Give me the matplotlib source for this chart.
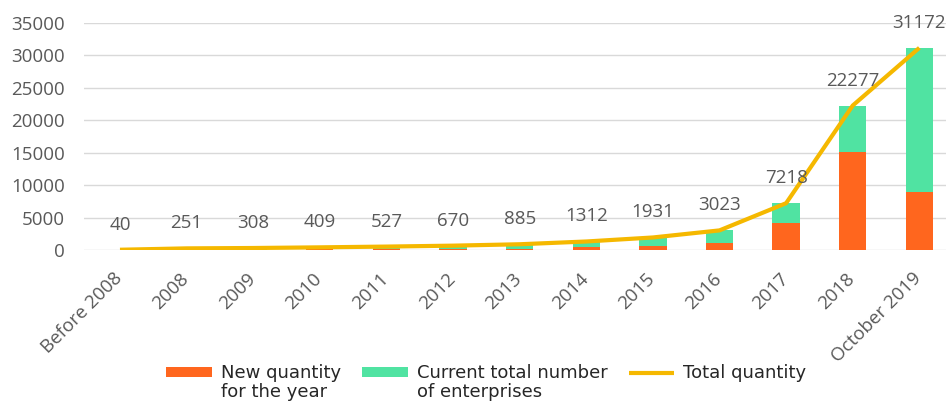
import matplotlib
matplotlib.use("Agg")
import matplotlib.pyplot as plt
import matplotlib.transforms as mtransforms
import numpy as np

categories = ["Before 2008", "2008", "2009", "2010", "2011", "2012", "2013",
              "2014", "2015", "2016", "2017", "2018", "October 2019"]
new_quantity = [40, 211, 57, 101, 118, 143, 215, 427, 619, 1092, 4195, 15059, 8895]
current_total = [0, 40, 251, 308, 409, 527, 670, 885, 1312, 1931, 3023, 7218, 22277]
total_quantity = [40, 251, 308, 409, 527, 670, 885, 1312, 1931, 3023, 7218, 22277, 31172]
yticks = [0, 5000, 10000, 15000, 20000, 25000, 30000, 35000]

plt.rcParams['font.family'] = ['Open Sans', 'DejaVu Sans']
GREY = '#595959'
ORANGE = '#FF661E'
GREEN = '#50E3A2'
GOLD = '#F5B800'

fig = plt.figure(figsize=(9.48, 4.05), dpi=100)
ax = fig.add_axes([84/948, 1-250/405, 862/948, 227/405])

x = np.arange(len(categories))
w = 0.41
b1 = ax.bar(x, new_quantity, w, color=ORANGE, label="New quantity", zorder=2)
b2 = ax.bar(x, current_total, w, bottom=new_quantity, color=GREEN,
            label="Current total number", zorder=2)
ln, = ax.plot(x, total_quantity, color=GOLD, lw=3, label="Total quantity",
              zorder=3, solid_capstyle='butt')

for xi, v in zip(x, total_quantity):
    ax.annotate(str(v), (xi, v), xytext=(0, 18), textcoords='offset points',
                ha='center', va='center', fontsize=13.5, color=GREY, zorder=4)

ax.set_ylim(0, 35000)
ax.set_xlim(-0.54, 12.4)
ax.set_yticks(yticks)
ax.set_yticklabels([str(t) for t in yticks], fontsize=13.5, color=GREY)
ax.set_xticks(x)
ax.set_xticklabels(categories, rotation=45, ha='right', rotation_mode='anchor',
                   fontsize=13.5, color=GREY)
ax.tick_params(axis='both', length=0)
ax.tick_params(axis='y', pad=14)
ax.tick_params(axis='x', pad=14)
shift = mtransforms.ScaledTranslation(-7/100, 0, fig.dpi_scale_trans)
for lab in ax.get_xticklabels():
    lab.set_transform(lab.get_transform() + shift)
ax.grid(axis='y', color='#D9D9D9', lw=1, zorder=0)
for s in ax.spines.values():
    s.set_visible(False)

LEGFONT = dict(family=['DejaVu Sans'], size=13)
leg = fig.legend(handles=[b1, b2, ln], loc='upper left',
                 bbox_to_anchor=(152/948, 1-350/405), ncol=3, frameon=False,
                 prop=LEGFONT, handlelength=2.5, handleheight=0.55,
                 handletextpad=0.5, columnspacing=1.2, labelcolor='#262626',
                 borderpad=0.3)

fig.canvas.draw()
inv = fig.transFigure.inverted()
second = ["for the year", "of enterprises", None]
for t, s in zip(leg.get_texts(), second):
    if s is None:
        continue
    bb = t.get_window_extent()
    x0, y0 = inv.transform((bb.x0, bb.y0 - 1))
    fig.text(x0, y0, s, ha='left', va='top', color='#262626',
             fontproperties=matplotlib.font_manager.FontProperties(**LEGFONT))

fig.savefig("out.png", dpi=100)
